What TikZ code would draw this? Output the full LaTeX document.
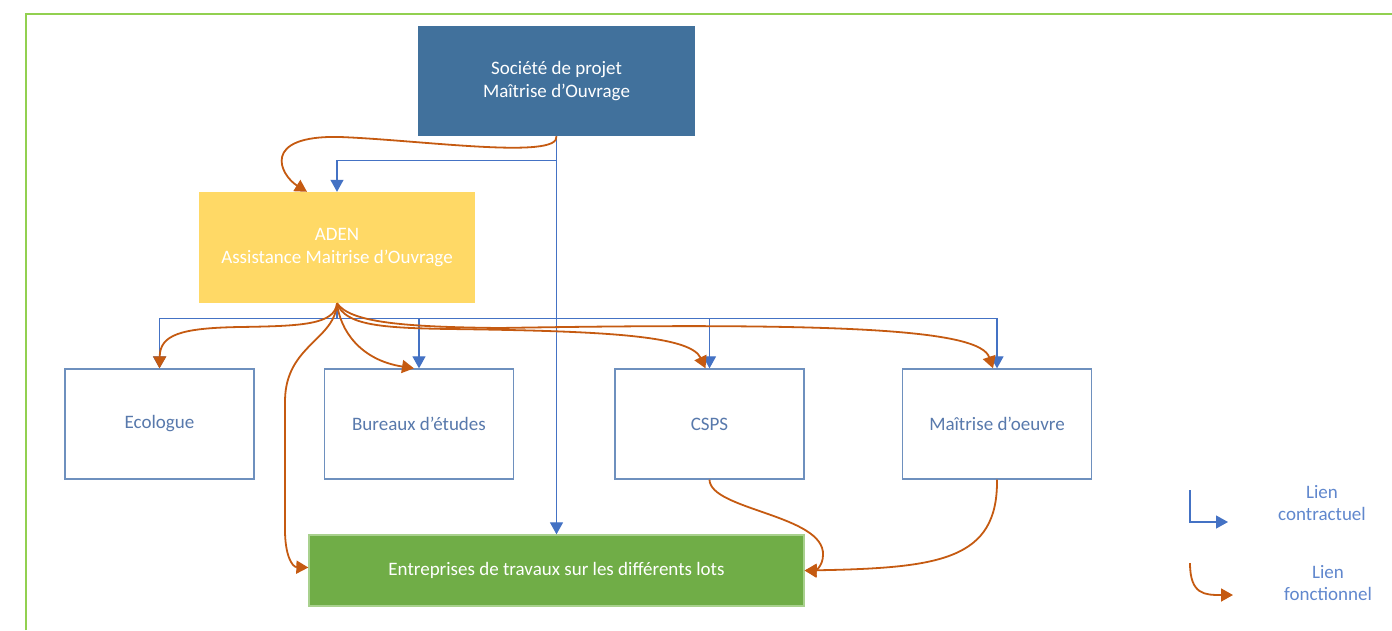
\documentclass[tikz,border=0pt]{standalone}
\usepackage{fontspec}
\setmainfont{Carlito}
\usetikzlibrary{arrows.meta}
\definecolor{moablue}{HTML}{41719C}
\definecolor{adenyellow}{HTML}{FFD966}
\definecolor{entgreen}{HTML}{70AD47}
\definecolor{entline}{HTML}{A9D18E}
\definecolor{framegreen}{HTML}{92D050}
\definecolor{boxline}{HTML}{6E90BE}
\definecolor{boxtext}{HTML}{5879AC}
\definecolor{linkblue}{HTML}{4472C4}
\definecolor{linkorange}{HTML}{C55A11}
\begin{document}
\begin{tikzpicture}[x=1pt,y=-1pt,
    every node/.style={font=\fontsize{19}{22.5}\selectfont, align=center, inner sep=0pt},
    filled/.style={minimum width=277pt, minimum height=110pt, text=white},
    plain/.style={draw=boxline, line width=1.3pt, fill=white, text=boxtext,
                  minimum width=189pt, minimum height=110pt},
    contrat/.style={draw=linkblue, line width=1.2pt, -{Triangle[width=13pt,length=12pt]}},
    fonction/.style={draw=linkorange, line width=1.8pt, -{Triangle[width=13pt,length=12pt]}},
    legendtext/.style={text=linkblue!85}]
  \useasboundingbox (0,0) rectangle (1392,630);
  % frame
  \draw[framegreen, line width=2pt] (26,630) -- (26,14) -- (1392,14);
  % boxes
  \node[filled, fill=moablue] (moa) at (556.5,81) {Société de projet\\Maîtrise d’Ouvrage};
  \node[filled, fill=adenyellow, minimum width=276pt, minimum height=111pt] (amo) at (337,247.5)
    {ADEN\\Assistance Maitrise d’Ouvrage};
  \node[plain] (eco) at (159.5,424) {Ecologue};
  \node[plain] (bet) at (419,424) {Bureaux d’études};
  \node[plain] (csps) at (709.5,424) {CSPS};
  \node[plain] (moe) at (997,424) {Maîtrise d’oeuvre};
  \node[fill=entgreen, draw=entline, line width=1.3pt, text=white,
        minimum width=495pt, minimum height=71pt] (ent) at (556.5,570.5)
    {Entreprises de travaux sur les différents lots};
  % contractual links
  \draw[contrat] (moa.south) -- (ent.north);
  \draw[contrat] (moa.south) ++(0,24) -| (amo.north);
  \foreach \n in {eco,bet,csps,moe}
    \draw[contrat] (amo.south) -- ++(0,15) -| (\n.north);
  % functional links
  \draw[fonction] (moa.south) .. controls (560,160) and (420,140) .. (340,137)
    .. controls (260,135) and (280,175) .. ([xshift=-30pt]amo.north);
  \draw[fonction] (amo.south) .. controls (335,325) and (300,326) .. (240,327)
    .. controls (180,328) and (160,335) .. (eco.north);
  \draw[fonction] (amo.south) .. controls (340,330) and (360,360) .. ([xshift=-5pt]bet.north);
  \draw[fonction] (amo.south) .. controls (335,340) and (286,345) .. (285,400) -- (285,530)
    .. controls (285,555) and (292,567) .. ([yshift=3pt]ent.west);
  \draw[fonction] (amo.south) .. controls (345,325) and (380,328) .. (450,329)
    .. controls (600,331) and (690,335) .. ([xshift=-4pt]csps.north);
  \draw[fonction] (amo.south) .. controls (350,322) and (400,327) .. (500,328)
    .. controls (850,322) and (980,330) .. ([xshift=-4pt]moe.north);
  \draw[fonction] (csps.south) .. controls (710,510) and (825,515) .. (823,555)
    .. controls (823,566) and (815,571) .. (ent.east);
  \draw[fonction] (moe.south) .. controls (998,560) and (940,568) .. (ent.east);
  % legend
  \coordinate (lc) at (1190,490);
  \coordinate (lf) at (1190,563);
  \draw[contrat] (lc) |- ++(38,32);
  \draw[fonction] (lf) .. controls (1190,595) and (1205,595) .. ++(43,32);
  \node[legendtext] (lctext) at (1322,503) {Lien\\contractuel};
  \node[legendtext] (lftext) at (1328,583) {Lien\\fonctionnel};
\end{tikzpicture}
\end{document}
